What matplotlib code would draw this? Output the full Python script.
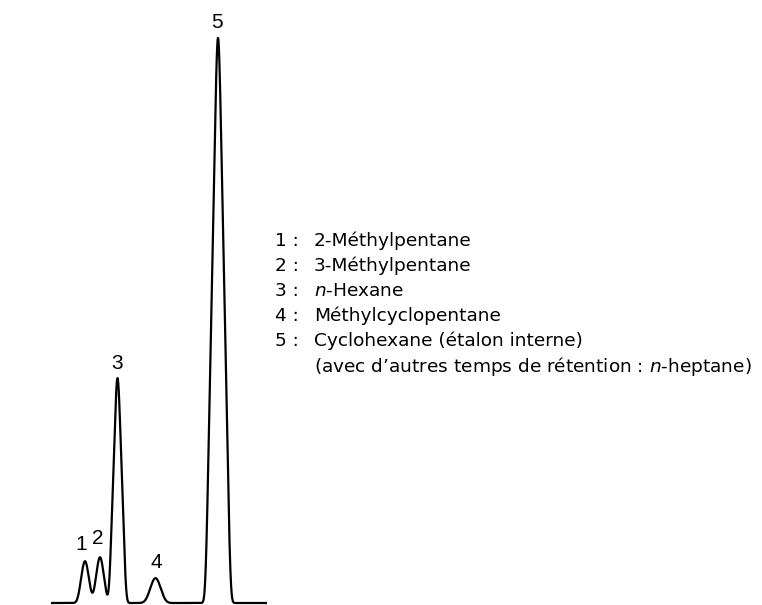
import numpy as np
import matplotlib
matplotlib.use("Agg")
import matplotlib.pyplot as plt

# ---- data ----
peak_ids = ["1", "2", "3", "4", "5"]
retention = [8.5, 10.0, 11.75, 15.55, 21.8]       # arbitrary time units
heights = [7.4, 8.1, 39.8, 4.4, 100.0]            # relative to peak 5
half_base = [0.72, 0.72, 0.85, 0.9, 1.25]         # triangle half width at base
rounding = [0.2, 0.2, 0.14, 0.32, 0.15]           # smoothing of the peak shape
baseline_range = [5.1, 26.7]

legend_nums = ["1 :", "2 :", "3 :", "4 :", "5 :", ""]
legend_names = ["2-Méthylpentane",
                "3-Méthylpentane",
                r"$\mathit{n}$-Hexane",
                "Méthylcyclopentane",
                "Cyclohexane (étalon interne)",
                r"(avec d’autres temps de rétention : $\mathit{n}$-heptane)"]

plt.rcParams['font.family'] = ['DejaVu Sans']
plt.rcParams['mathtext.fontset'] = 'custom'
plt.rcParams['mathtext.rm'] = 'DejaVu Sans'
plt.rcParams['mathtext.it'] = 'DejaVu Sans:italic'

W, H = 762, 605
fig = plt.figure(figsize=(W / 100, H / 100), dpi=100)
ax = fig.add_axes([0, 0, 1, 1])
ax.set_xlim(0, 76.2)
ppu = 565 / 100.0
ax.set_ylim(-2 / ppu, 603 / ppu)
ax.axis('off')

t = np.linspace(baseline_range[0], baseline_range[1], 8000)
dt = t[1] - t[0]
signal = np.zeros_like(t)
for c, h, w, s in zip(retention, heights, half_base, rounding):
    tri = np.clip(1 - np.abs(t - c) / w, 0, None)
    k = np.arange(-int(4 * s / dt), int(4 * s / dt) + 1) * dt
    kern = np.exp(-0.5 * (k / s) ** 2)
    kern /= kern.sum()
    sm = np.convolve(tri, kern, mode='same')
    signal += h * sm / sm.max()

ax.plot(t, signal, color='black', lw=1.6, solid_capstyle='butt')

label_offsets = [(-4, 17), (-2, 19), (0, 15), (1, 16), (-1, 15)]
for pid, c, h, off in zip(peak_ids, retention, heights, label_offsets):
    ax.annotate(pid, (c, h), xytext=off, textcoords='offset pixels',
                ha='center', va='center', fontsize=15,
                family=['Liberation Sans Narrow', 'Liberation Sans'])

row0, step = 241, 25.0
for i, (n, name) in enumerate(zip(legend_nums, legend_names)):
    y = 1 - (row0 + i * step) / H
    if n:
        fig.text(275 / W, y, n, ha='left', va='center', fontsize=13.3)
    fig.text(314 / W, y, name, ha='left', va='center', fontsize=13.3)

fig.savefig('out.png', dpi=100)
